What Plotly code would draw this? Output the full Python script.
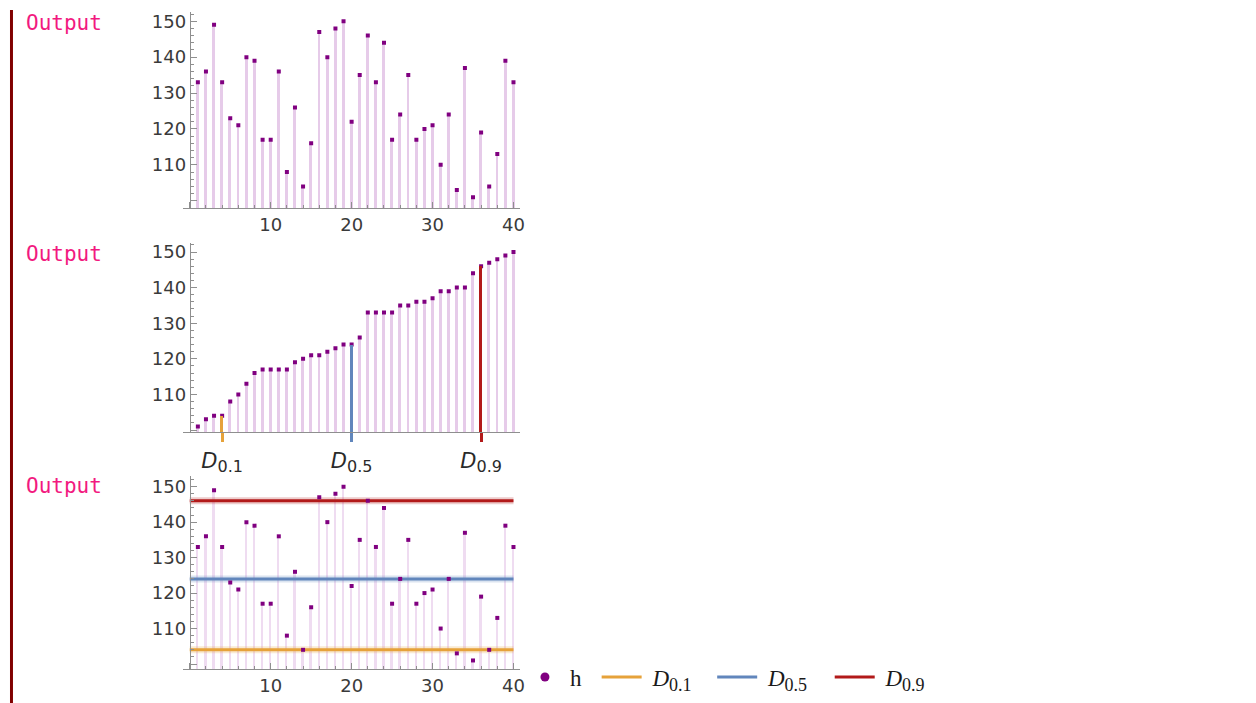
import plotly.graph_objects as go

W, H = 1256, 703
OFF = 8  # page body margin offset

# ---------------- data ----------------
index = list(range(1, 41))
h = [133, 136, 149, 133, 123, 121, 140, 139, 117, 117,
     136, 108, 126, 104, 116, 147, 140, 148, 150, 122,
     135, 146, 133, 144, 117, 124, 135, 117, 120, 121,
     110, 124, 103, 137, 101, 119, 104, 113, 139, 133]
h_sorted = sorted(h)

d_names = ["0.1", "0.5", "0.9"]
d_index = [4, 20, 36]
d_values = [104, 124, 146]
d_colors = ["#E6A23A", "#6186BC", "#B21A1A"]

y_tickvals = [100, 110, 120, 130, 140, 150]
y_ticktext = ["", "110", "120", "130", "140", "150"]
x_tickvals = [0, 10, 20, 30, 40]
x_ticktext = ["", "10", "20", "30", "40"]
line_x = [0, len(h)]

# ---------------- style ----------------
STEM = "#e6cbe9"
STEM3 = "#efdcf1"
PT = "#800080"
AX = "#8f8f8f"
TICKFONT = dict(family="DejaVu Sans", size=18, color="#3a3a3a")


def px(x):
    return (x - OFF) / W


def py(y):
    return 1 - (y - OFF) / H


def dlabel(name, subsize, lead=""):
    return '%s<i>D</i><sub><span style="font-size:%dpx">%s</span></sub>' % (lead, subsize, name)


XR = [-0.8, 40.8]
XDOM = [px(184), px(522)]
YPOS = px(190.5)

base_x = dict(showline=True, linecolor=AX, linewidth=1, showgrid=False, zeroline=False,
              ticks="inside", tickcolor=AX, ticklen=6, tickfont=TICKFONT, fixedrange=True,
              range=XR, domain=XDOM)
base_y = dict(showline=True, linecolor=AX, linewidth=1, showgrid=False, zeroline=False,
              ticks="inside", tickcolor=AX, ticklen=6, tickfont=TICKFONT, fixedrange=True,
              tickmode="array", tickvals=y_tickvals, ticktext=y_ticktext,
              anchor="free", position=YPOS,
              minor=dict(ticks="inside", ticklen=3, dtick=2, tick0=0, tickcolor=AX, showgrid=False))

fig = go.Figure()

# ---- panel 1 ----
fig.add_trace(go.Bar(x=index, y=h, width=0.36, marker=dict(color=STEM, line=dict(width=0)),
                     xaxis="x", yaxis="y", showlegend=False, hoverinfo="skip"))
fig.add_trace(go.Scatter(x=index, y=h, mode="markers", marker=dict(symbol="square", size=4, color=PT),
                         xaxis="x", yaxis="y", showlegend=False))

# ---- panel 2 ----
fig.add_trace(go.Bar(x=index, y=h_sorted, width=0.36, marker=dict(color=STEM, line=dict(width=0)),
                     xaxis="x2", yaxis="y2", showlegend=False, hoverinfo="skip"))
fig.add_trace(go.Scatter(x=index, y=h_sorted, mode="markers", marker=dict(symbol="square", size=4, color=PT),
                         xaxis="x2", yaxis="y2", showlegend=False))
for i in range(3):
    fig.add_trace(go.Bar(x=[d_index[i]], y=[d_values[i]], width=0.36,
                         marker=dict(color=d_colors[i], line=dict(width=0)),
                         xaxis="x%d" % (4 + i), yaxis="y2", showlegend=False, hoverinfo="skip"))

# ---- panel 3 ----
fig.add_trace(go.Bar(x=index, y=h, width=0.22, marker=dict(color=STEM3, line=dict(width=0)),
                     xaxis="x3", yaxis="y3", showlegend=False, hoverinfo="skip"))
for i in range(3):
    fig.add_trace(go.Scatter(x=line_x, y=[d_values[i]] * 2, mode="lines",
                             line=dict(color=d_colors[i], width=7), opacity=0.22,
                             xaxis="x3", yaxis="y3", showlegend=False, hoverinfo="skip"))
    fig.add_trace(go.Scatter(x=line_x, y=[d_values[i]] * 2, mode="lines",
                             line=dict(color=d_colors[i], width=3),
                             name=dlabel(d_names[i], 18, "\u00a0"),
                             legend="legend%d" % (2 + i),
                             xaxis="x3", yaxis="y3", showlegend=True))
fig.add_trace(go.Scatter(x=index, y=h, mode="markers", marker=dict(symbol="square", size=4, color=PT),
                         xaxis="x3", yaxis="y3", showlegend=False))
fig.add_trace(go.Scatter(x=[None], y=[None], mode="markers", marker=dict(symbol="circle", size=9, color=PT),
                         name="h", legend="legend", xaxis="x3", yaxis="y3", showlegend=True))

xminor = dict(ticks="inside", ticklen=3, dtick=2, tick0=0, tickcolor=AX, showgrid=False)

layout = dict(
    width=W, height=H, autosize=False,
    margin=dict(l=0, r=0, t=0, b=0),
    paper_bgcolor="white", plot_bgcolor="rgba(0,0,0,0)",
    barmode="overlay", bargap=0,
    xaxis=dict(base_x, anchor="y", tickmode="array", tickvals=x_tickvals, ticktext=x_ticktext, minor=xminor),
    yaxis=dict(base_y, domain=[py(207), py(10)], range=[97.86, 152.58]),
    xaxis2=dict(base_x, anchor="y2", showticklabels=False, ticks=""),
    yaxis2=dict(base_y, domain=[py(431.7), py(241.7)], range=[99.3, 152.52]),
    xaxis3=dict(base_x, anchor="y3", tickmode="array", tickvals=x_tickvals, ticktext=x_ticktext, minor=xminor),
    yaxis3=dict(base_y, domain=[py(669), py(475)], range=[98.56, 153.1]),
    showlegend=True,
)
for i in range(3):
    layout["xaxis%d" % (4 + i)] = dict(
        base_x, overlaying="x2", anchor="y2", showline=False,
        tickmode="array", tickvals=[d_index[i]], ticktext=[dlabel(d_names[i], 16)],
        ticks="outside", ticklen=9, tickwidth=3, tickcolor=d_colors[i],
        tickfont=dict(family="DejaVu Sans", size=21, color="#2a2a2a"))

LEGFONT = dict(family="Liberation Serif", size=23, color="#1a1a1a")
leg_x = [522, 599, 715, 833]
for j, key in enumerate(["legend", "legend2", "legend3", "legend4"]):
    layout[key] = dict(x=px(leg_x[j]), y=py(677), xanchor="left", yanchor="middle",
                       orientation="h", bgcolor="rgba(0,0,0,0)", borderwidth=0,
                       font=LEGFONT, itemwidth=40)

fig.update_layout(**layout)

# left output bar and labels
fig.add_shape(type="rect", xref="paper", yref="paper", x0=px(10), x1=px(13), y0=py(703), y1=py(8),
              fillcolor="#800000", line=dict(width=0))
for yy in [21, 253, 485]:
    fig.add_annotation(text="Output", x=px(24), y=py(yy), xref="paper", yref="paper",
                       xanchor="left", yanchor="middle", showarrow=False,
                       font=dict(family="DejaVu Sans Mono", size=21, color="#F2197F"))

fig.write_html("out.html")
